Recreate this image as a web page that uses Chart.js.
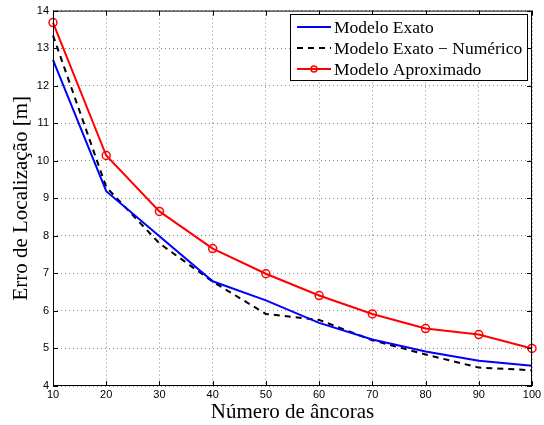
<!DOCTYPE html>
<html>
<head>
<meta charset="utf-8">
<script src="https://cdn.jsdelivr.net/npm/chart.js@4/dist/chart.umd.min.js"></script>
<style>
  html, body { margin: 0; padding: 0; background: #fff; }
  #wrap { width: 544px; height: 425px; }
</style>
</head>
<body>
<div id="wrap"><canvas id="erroChart" width="544" height="425"></canvas></div>
<script>
'use strict';

// dados
var ancoras = [10, 20, 30, 40, 50, 60, 70, 80, 90, 100];
var exato = [12.69, 9.19, 7.99, 6.79, 6.28, 5.68, 5.24, 4.92, 4.67, 4.54];
var exatoNumerico = [13.34, 9.30, 7.80, 6.78, 5.92, 5.76, 5.22, 4.84, 4.49, 4.42];
var aproximado = [13.68, 10.14, 8.65, 7.66, 6.99, 6.41, 5.92, 5.53, 5.37, 5.00];
var labels = ['Modelo Exato', 'Modelo Exato \u2212 Num\u00e9rico', 'Modelo Aproximado'];

function pts(ys) {
    return ancoras.map(function (x, i) { return { x: x, y: ys[i] }; });
}

// moldura estilo matlab + legenda dentro do grafico
var matlabFrame = {
    id: 'matlabFrame',
    afterDraw: function (chart) {
        var ctx = chart.ctx;
        var a = chart.chartArea;
        var sx = chart.scales.x, sy = chart.scales.y;
        ctx.save();
        ctx.strokeStyle = '#000';
        ctx.lineWidth = 1;
        ctx.strokeRect(a.left + 0.5, a.top + 0.5, a.right - a.left - 1, a.bottom - a.top - 1);
        ctx.beginPath();
        sx.ticks.forEach(function (t) {
            var px = Math.round(sx.getPixelForValue(t.value)) + 0.5;
            ctx.moveTo(px, a.bottom); ctx.lineTo(px, a.bottom - 5);
            ctx.moveTo(px, a.top); ctx.lineTo(px, a.top + 5);
        });
        sy.ticks.forEach(function (t) {
            var py = Math.round(sy.getPixelForValue(t.value)) + 0.5;
            ctx.moveTo(a.left, py); ctx.lineTo(a.left + 5, py);
            ctx.moveTo(a.right, py); ctx.lineTo(a.right - 5, py);
        });
        ctx.stroke();

        // legenda
        var bx = 290, by = 14, bw = 237, bh = 66;
        ctx.fillStyle = '#fff';
        ctx.fillRect(bx, by, bw, bh);
        ctx.strokeRect(bx + 0.5, by + 0.5, bw, bh);
        ctx.font = '17.5px "Liberation Serif"';
        ctx.textBaseline = 'middle';
        var rows = [27, 48, 69];
        chart.data.datasets.forEach(function (ds, i) {
            var y = rows[i];
            ctx.beginPath();
            ctx.strokeStyle = ds.borderColor;
            ctx.lineWidth = 2;
            ctx.setLineDash(ds.borderDash || []);
            ctx.moveTo(297, y); ctx.lineTo(331, y);
            ctx.stroke();
            ctx.setLineDash([]);
            if (ds.pointRadius > 0) {
                ctx.beginPath();
                ctx.lineWidth = 1.5;
                ctx.arc(314, y, 3, 0, Math.PI * 2);
                ctx.stroke();
            }
            ctx.fillStyle = '#000';
            ctx.fillText(ds.label, 334, y + 1);
        });
        ctx.restore();
    }
};

var ctx = document.getElementById('erroChart');
var erroChart = new Chart(ctx, {
    type: 'line',
    data: {
        datasets: [
            {
                label: labels[0],
                data: pts(exato),
                borderColor: '#0000ff',
                borderWidth: 2,
                pointRadius: 0,
                fill: false,
                tension: 0,
                clip: false
            },
            {
                label: labels[1],
                data: pts(exatoNumerico),
                borderColor: '#000000',
                borderWidth: 2,
                borderDash: [6, 5],
                pointRadius: 0,
                fill: false,
                tension: 0,
                clip: false
            },
            {
                label: labels[2],
                data: pts(aproximado),
                borderColor: '#ff0000',
                borderWidth: 2,
                pointRadius: 4,
                pointBorderWidth: 1.5,
                pointBackgroundColor: 'rgba(0,0,0,0)',
                pointBorderColor: '#ff0000',
                fill: false,
                tension: 0,
                clip: false
            }
        ]
    },
    options: {
        responsive: false,
        animation: false,
        layout: { padding: { top: 10, right: 12, left: 0, bottom: 0 } },
        plugins: {
            legend: { display: false },
            tooltip: { enabled: false }
        },
        scales: {
            x: {
                type: 'linear',
                min: 10,
                max: 100,
                afterFit: function (s) { s.height = 39; },
                ticks: {
                    stepSize: 10,
                    color: '#000',
                    padding: 2,
                    maxRotation: 0,
                    font: { family: '"Liberation Sans"', size: 11 }
                },
                grid: { color: '#8a8a8a', lineWidth: 1, drawTicks: false },
                border: { display: false, dash: [1, 3] },
                title: {
                    display: true,
                    text: 'N\u00famero de \u00e2ncoras',
                    color: '#000',
                    padding: { top: 0, bottom: 0 },
                    font: { family: '"Liberation Serif"', size: 21 }
                }
            },
            y: {
                min: 4,
                max: 14,
                afterFit: function (s) { s.width = 53; },
                ticks: {
                    stepSize: 1,
                    color: '#000',
                    padding: 4,
                    font: { family: '"Liberation Sans"', size: 11 }
                },
                grid: { color: '#8a8a8a', lineWidth: 1, drawTicks: false },
                border: { display: false, dash: [1, 3] },
                title: {
                    display: true,
                    text: 'Erro de Localiza\u00e7\u00e3o [m]',
                    color: '#000',
                    padding: { top: 9, bottom: 0 },
                    font: { family: '"Liberation Serif"', size: 21 }
                }
            }
        }
    },
    plugins: [matlabFrame]
});
</script>
</body>
</html>
